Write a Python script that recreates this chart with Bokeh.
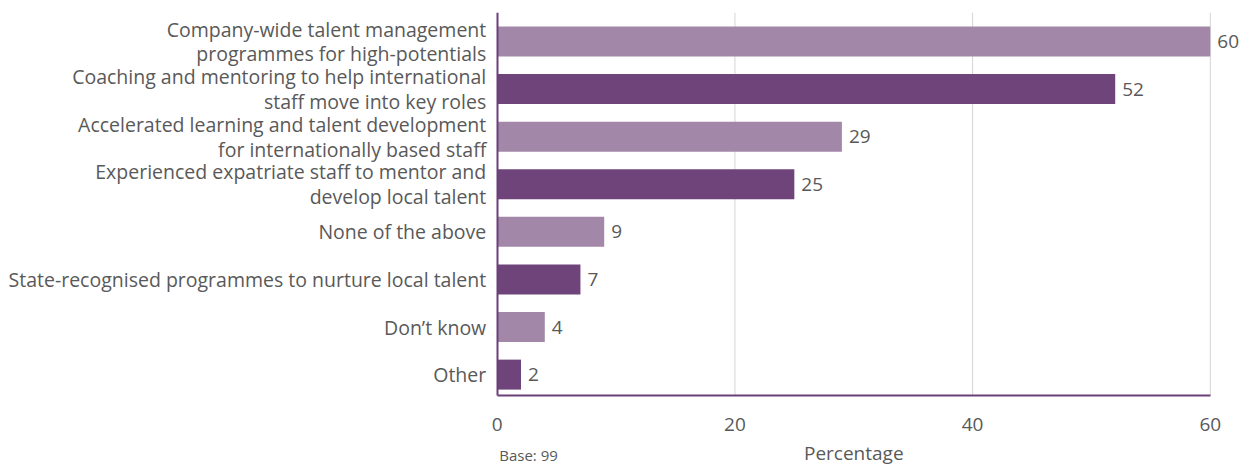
from bokeh.plotting import figure
from bokeh.models import Range1d, FixedTicker, ColumnDataSource, LabelSet, Label
from bokeh.core.properties import value
from bokeh.embed import file_html
from bokeh.resources import INLINE

categories = [
    "Company-wide talent management\nprogrammes for high-potentials",
    "Coaching and mentoring to help international\nstaff move into key roles",
    "Accelerated learning and talent development\nfor internationally based staff",
    "Experienced expatriate staff to mentor and\ndevelop local talent",
    "None of the above",
    "State-recognised programmes to nurture local talent",
    "Don\u2019t know",
    "Other",
]
values = [60, 52, 29, 25, 9, 7, 4, 2]
x_ticks = [0, 20, 40, 60]
x_title = "Percentage"
base_note = "Base: 99"

LIGHT = "#a287a8"
DARK = "#6e447a"
AXIS = "#6b3f7a"
TEXT = "#595959"
GRID = "#d4d4d4"
FONT = "Open Sans"

pos = list(range(len(categories)))
colors = [LIGHT if i % 2 == 0 else DARK for i in pos]
src = ColumnDataSource(dict(y=pos, v=values, c=colors, lbl=[str(v) for v in values]))

# category band extent (top/bottom of the bar area) and the extended frame below it
Y_TOP, Y_AXIS, Y_BOTTOM = -0.61, 7.44, 8.91
# the frame spans the whole canvas width so that the axes' labels are never clipped
X_LEFT, X_RIGHT = -41.8, 63.3

p = figure(width=1255, height=465, output_backend="svg", toolbar_location=None,
           x_range=Range1d(X_LEFT, X_RIGHT), y_range=Range1d(Y_BOTTOM, Y_TOP),
           min_border_left=0, min_border_right=6, min_border_top=12,
           min_border_bottom=0)
p.outline_line_color = None
p.background_fill_color = "white"

# vertical grid lines at the non-zero ticks, stopping at the axis
grid_x = x_ticks[1:]
p.segment(x0=grid_x, x1=grid_x, y0=[Y_TOP] * len(grid_x), y1=[Y_AXIS] * len(grid_x),
          line_color=GRID, line_width=1)

p.hbar(y="y", left=0, right="v", height=0.63, color="c", source=src, line_color=None)

p.add_layout(LabelSet(x="v", y="y", text="lbl", source=src, x_offset=7,
                      text_baseline="middle", text_align="left",
                      text_font=value(FONT), text_font_size="19px", text_color=TEXT))

p.xaxis.fixed_location = Y_AXIS
p.xaxis.ticker = FixedTicker(ticks=x_ticks)
p.xaxis.bounds = (0, 60)
p.xaxis.major_tick_line_color = None
p.xaxis.minor_tick_line_color = None
p.xaxis.axis_line_color = AXIS
p.xaxis.axis_line_width = 2
p.xaxis.major_label_standoff = 16
p.xaxis.major_label_text_font = FONT
p.xaxis.major_label_text_font_size = "19px"
p.xaxis.major_label_text_color = TEXT

p.yaxis.fixed_location = 0
p.yaxis.ticker = FixedTicker(ticks=pos)
p.yaxis.bounds = (Y_TOP, Y_AXIS)
p.yaxis.major_label_overrides = {i: c for i, c in zip(pos, categories)}
p.yaxis.major_tick_line_color = None
p.yaxis.minor_tick_line_color = None
p.yaxis.axis_line_color = AXIS
p.yaxis.axis_line_width = 2
p.yaxis.major_label_standoff = 5
p.yaxis.major_label_text_font = FONT
p.yaxis.major_label_text_font_size = "19.5px"
p.yaxis.major_label_text_line_height = 0.92
p.yaxis.major_label_text_color = TEXT

p.xgrid.grid_line_color = None
p.ygrid.grid_line_color = None

p.add_layout(Label(x=30, y=8.64, text=x_title, text_align="center",
                   text_baseline="middle", text_font=FONT, text_font_size="19px",
                   text_color=TEXT))
p.add_layout(Label(x=0, y=8.68, x_offset=2, text=base_note, text_align="left",
                   text_baseline="middle", text_font=FONT, text_font_size="15px",
                   text_color=TEXT))

open("out.html", "w").write(file_html(p, INLINE))
